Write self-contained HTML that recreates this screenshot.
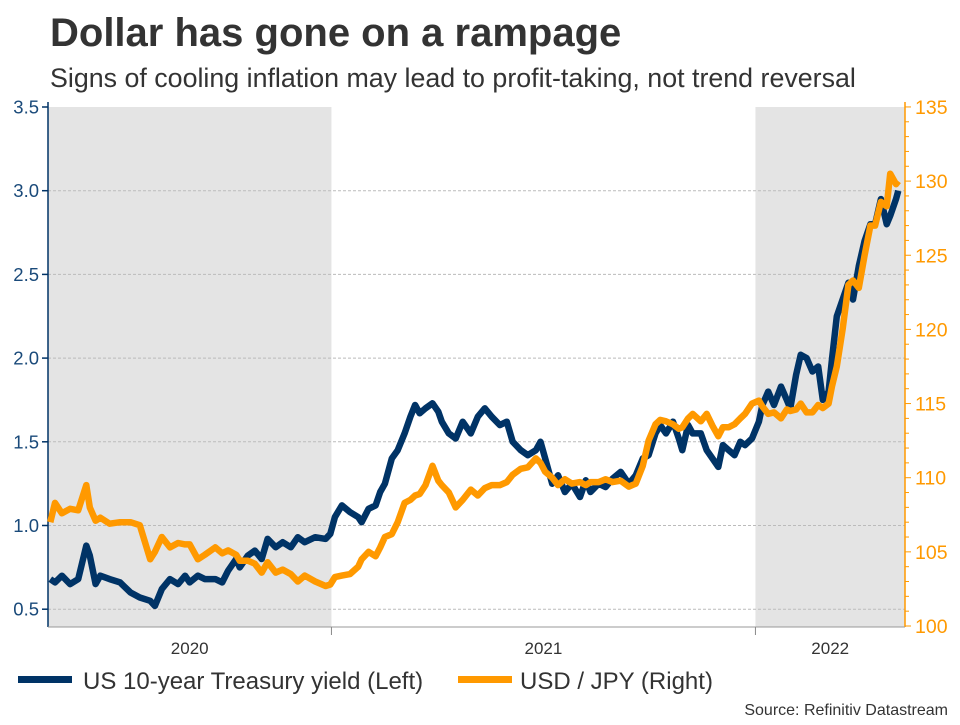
<!DOCTYPE html>
<html><head><meta charset="utf-8"><style>
body{margin:0;background:#fff;width:960px;height:720px;overflow:hidden;font-family:"Liberation Sans",sans-serif}
</style></head><body>
<svg id="chart" width="960" height="720" xmlns="http://www.w3.org/2000/svg" font-family="Liberation Sans, sans-serif">
<text x="50" y="46" font-size="40" font-weight="bold" fill="#333">Dollar has gone on a rampage</text>
<text x="50" y="87" font-size="26.8" fill="#333">Signs of cooling inflation may lead to profit-taking, not trend reversal</text>
<g id="plot"></g>
<g>
<rect x="18" y="676" width="54" height="7" fill="#003366"/>
<text x="83" y="689" font-size="24" fill="#333">US 10-year Treasury yield (Left)</text>
<rect x="458" y="676" width="54" height="7" fill="#ff9900"/>
<text x="520" y="689" font-size="24" fill="#333">USD / JPY (Right)</text>
</g>
<text x="948" y="715" font-size="16" fill="#333" text-anchor="end">Source: Refinitiv Datastream</text>
</svg>
<script>
// days since 2020-05-02
const days=[2,6,12,19,26,33,36,41,45,53,62,71,79,88,92,98,105,112,118,122,129,135,144,150,155,162,165,172,178,184,189,196,202,209,215,221,230,239,243,247,253,260,267,270,276,282,286,290,296,301,307,312,316,320,325,331,336,339,345,351,357,364,370,376,382,389,395,400,407,413,420,424,428,434,439,445,451,458,463,467,474,480,486,493,500,506,512,517,523,527,532,538,543,546,551,555,562,567,572,577,581,586,591,596,600,606,612,615,620,625,631,636,639,644,648,653,658,663,667,672,675,679,684,689,693,698,703,708,712,717,722,725,730,732];
const yieldVals=[0.68,0.66,0.70,0.65,0.68,0.88,0.82,0.65,0.70,0.68,0.66,0.60,0.57,0.55,0.52,0.62,0.68,0.65,0.70,0.66,0.70,0.68,0.68,0.66,0.73,0.80,0.75,0.82,0.85,0.80,0.92,0.87,0.90,0.87,0.93,0.90,0.93,0.92,0.95,1.05,1.12,1.08,1.05,1.02,1.10,1.12,1.20,1.25,1.40,1.45,1.55,1.65,1.72,1.67,1.70,1.73,1.68,1.62,1.55,1.52,1.62,1.55,1.65,1.70,1.65,1.60,1.62,1.50,1.45,1.42,1.45,1.50,1.40,1.25,1.30,1.20,1.25,1.17,1.27,1.20,1.25,1.23,1.28,1.32,1.25,1.30,1.40,1.42,1.55,1.60,1.55,1.62,1.52,1.45,1.60,1.55,1.55,1.45,1.40,1.35,1.48,1.45,1.42,1.50,1.48,1.52,1.62,1.72,1.80,1.72,1.83,1.75,1.70,1.90,2.02,2.00,1.92,1.95,1.75,1.80,2.00,2.25,2.35,2.45,2.35,2.55,2.70,2.80,2.80,2.95,2.80,2.85,2.95,3.00];
const jpyVals=[107.0,108.3,107.6,107.9,107.8,109.5,108.0,107.1,107.3,106.9,107.0,107.0,106.8,104.5,105.0,106.0,105.3,105.6,105.5,105.5,104.5,104.8,105.3,104.9,105.1,104.8,104.4,104.4,104.2,103.6,104.3,103.6,103.8,103.5,103.0,103.4,103.0,102.7,102.8,103.3,103.4,103.5,104.0,104.5,105.0,104.7,105.3,106.0,106.2,107.0,108.3,108.5,108.8,108.9,109.5,110.8,109.8,109.5,109.0,108.0,108.5,109.2,108.8,109.3,109.5,109.5,109.7,110.2,110.6,110.7,111.3,111.0,110.4,110.0,109.5,109.9,109.6,109.7,109.5,109.7,109.7,109.9,109.7,109.8,109.4,109.6,110.8,112.5,113.6,113.9,113.8,113.6,113.3,113.4,114.0,114.3,113.8,114.3,113.5,112.8,113.4,113.4,113.6,114.0,114.3,115.0,115.2,114.8,114.3,114.4,114.0,114.6,114.5,114.6,115.0,114.4,114.4,114.9,114.7,115.0,116.2,117.5,120.0,123.0,123.3,122.8,125.0,127.0,127.0,128.6,128.3,130.5,129.8,130.0];
const leftTicks=[0.5,1.0,1.5,2.0,2.5,3.0,3.5];
const rightTicks=[100,105,110,115,120,125,130,135];
const years=["2020","2021","2022"];
const yearStartDays=[-122,244,609];
const shadedYears=[0,2];

const NS="http://www.w3.org/2000/svg";
const X0=48,X1=905,T=107,B=627;
const pxPerDay=424/365;
const xs=d=>X0+d*pxPerDay;
const yL=v=>T+(3.5-v)*167.4;
const yR=v=>626-(v-100)*14.83;
const g=document.getElementById('plot');
function mk(tag,attrs){const e=document.createElementNS(NS,tag);for(const k in attrs)e.setAttribute(k,attrs[k]);g.appendChild(e);return e;}
function tx(x,y,s,attrs){const e=mk('text',Object.assign({x:x,y:y},attrs));e.textContent=s;return e;}
const endDay=(X1-X0)/pxPerDay;
shadedYears.forEach(i=>{
 const a=Math.max(X0,xs(yearStartDays[i])), b=Math.min(X1,xs(i+1<yearStartDays.length?yearStartDays[i+1]:endDay+1));
 const r=mk('rect',{x:a,y:T,width:b-a,height:B-T,fill:'#e4e4e4'});
 
 
});
leftTicks.forEach(v=>{
 const y=yL(v);
 if(v<3.5){const l=mk('line',{x1:X0,x2:X1,y1:y,y2:y,stroke:'#bbb','stroke-dasharray':'3,2','stroke-width':1});
 
 }
 mk('line',{x1:X0-6,x2:X0,y1:y,y2:y,stroke:'#003366','stroke-width':1.5});
 const t=tx(X0-9,y+6.5,v.toFixed(1),{'font-size':18.5,fill:'#1a4a7a','text-anchor':'end'});
 
 
});
for(let v=100;v<=135;v++){mk('line',{x1:X1,x2:X1+(v%5==0?6:4),y1:yR(v),y2:yR(v),stroke:'#ff9900','stroke-width':1});}
rightTicks.forEach(v=>{
 const t=tx(X1+10,yR(v)+7,String(v),{'font-size':19.5,fill:'#ff9900'});
 
 
});
mk('line',{x1:X0,x2:X0,y1:T-5,y2:B,stroke:'#003366','stroke-width':1.5});
mk('line',{x1:X1,x2:X1,y1:T-5,y2:B,stroke:'#ff9900','stroke-width':1.5});
mk('line',{x1:X0,x2:X1,y1:B,y2:B,stroke:'#999','stroke-width':1});
years.forEach((s,i)=>{
 const a=Math.max(X0,xs(yearStartDays[i])), b=Math.min(X1,xs(i+1<yearStartDays.length?yearStartDays[i+1]:endDay+1));
 if(i>0)mk('line',{x1:a,x2:a,y1:B,y2:B+8,stroke:'#888','stroke-width':1});
 const t=tx((a+b)/2,654,s,{'font-size':17,fill:'#333','text-anchor':'middle'});
 
 
});
function path(vals,sc){return vals.map((v,i)=>(i?'L':'M')+xs(days[i]).toFixed(1)+','+sc(v).toFixed(1)).join('');}
const p1=mk('path',{d:path(yieldVals,yL),fill:'none',stroke:'#003366','stroke-width':6.5,'stroke-linejoin':'round'});


const p2=mk('path',{d:path(jpyVals,yR),fill:'none',stroke:'#ff9900','stroke-width':6.5,'stroke-linejoin':'round'});


</script>
</body></html>
